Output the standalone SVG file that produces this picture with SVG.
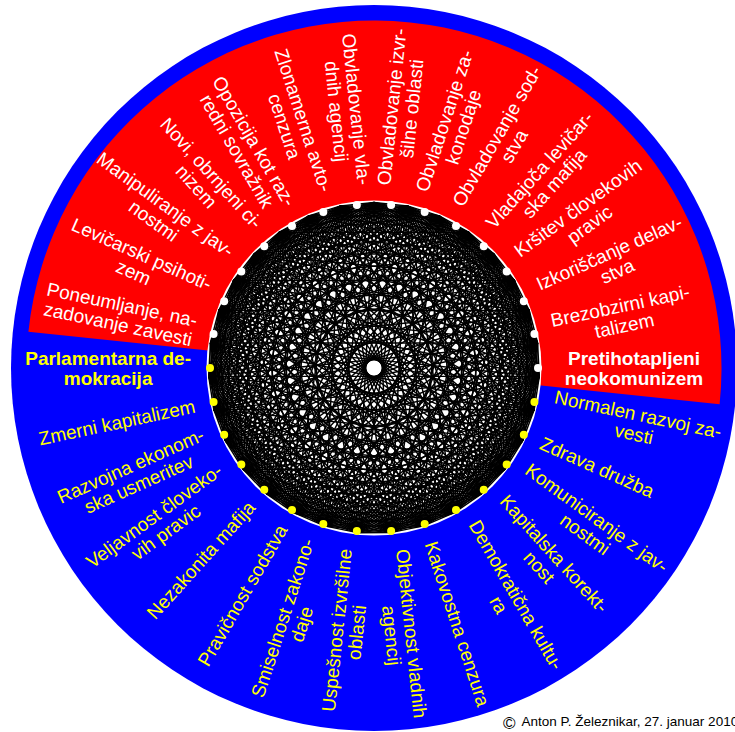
<svg xmlns="http://www.w3.org/2000/svg" width="735" height="732" viewBox="0 0 735 732">
<style>
text{font-family:"Liberation Sans",Arial,Helvetica,sans-serif;font-size:19px;text-anchor:middle}
.w{fill:#fff}
.y{fill:#ff0}
.b{font-weight:bold}
.cp{font-size:13.5px;text-anchor:start;fill:#000}
.ch{stroke:#000;stroke-width:1.45;fill:none}
.dw{fill:#fff}
.dy{fill:#ff0}
</style>
<defs>
<g id="fan">
<path class="ch" d="M-33.32 -162.11H33.32M-65.27 -152.09H65.27M-94.55 -135.84H94.55M-119.95 -114.02H119.95M-140.45 -87.54H140.45M-155.2 -57.48H155.2M-163.59 -25.06H163.59"/>
<path class="ch" transform="rotate(5.80645)" d="M-16.74 -164.65H16.74M-49.54 -157.91H49.54M-80.32 -144.7H80.32M-107.8 -125.57H107.8M-130.87 -101.3H130.87M-148.59 -72.88H148.59M-160.22 -41.48H160.22M-165.29 -8.38H165.29"/>
</g>
</defs>

<g id="background">
<circle cx="374" cy="368" r="363" fill="#00f"/>
<path d="M374 368L719.6 404.3A347.5 347.5 0 0 0 28.4 331.7Z" fill="#f00"/>
<circle cx="374" cy="368" r="167.5" fill="#fff"/>
</g>

<g id="connectors" transform="translate(374,368)">
<use href="#fan"/>
<use href="#fan" transform="rotate(11.6129)"/>
<use href="#fan" transform="rotate(23.2258)"/>
<use href="#fan" transform="rotate(34.8387)"/>
<use href="#fan" transform="rotate(46.4516)"/>
<use href="#fan" transform="rotate(58.0645)"/>
<use href="#fan" transform="rotate(69.6774)"/>
<use href="#fan" transform="rotate(81.2903)"/>
<use href="#fan" transform="rotate(92.9032)"/>
<use href="#fan" transform="rotate(104.5161)"/>
<use href="#fan" transform="rotate(116.129)"/>
<use href="#fan" transform="rotate(127.7419)"/>
<use href="#fan" transform="rotate(139.3548)"/>
<use href="#fan" transform="rotate(150.9677)"/>
<use href="#fan" transform="rotate(162.5806)"/>
<use href="#fan" transform="rotate(174.1935)"/>
<use href="#fan" transform="rotate(185.8065)"/>
<use href="#fan" transform="rotate(197.4194)"/>
<use href="#fan" transform="rotate(209.0323)"/>
<use href="#fan" transform="rotate(220.6452)"/>
<use href="#fan" transform="rotate(232.2581)"/>
<use href="#fan" transform="rotate(243.871)"/>
<use href="#fan" transform="rotate(255.4839)"/>
<use href="#fan" transform="rotate(267.0968)"/>
<use href="#fan" transform="rotate(278.7097)"/>
<use href="#fan" transform="rotate(290.3226)"/>
<use href="#fan" transform="rotate(301.9355)"/>
<use href="#fan" transform="rotate(313.5484)"/>
<use href="#fan" transform="rotate(325.1613)"/>
<use href="#fan" transform="rotate(336.7742)"/>
<use href="#fan" transform="rotate(348.3871)"/>
</g>

<g id="dots">
<circle class="dw" cx="538" cy="368" r="4"/>
<circle class="dw" cx="534.42" cy="333.9" r="4"/>
<circle class="dw" cx="523.82" cy="301.29" r="4"/>
<circle class="dw" cx="506.68" cy="271.6" r="4"/>
<circle class="dw" cx="483.74" cy="246.13" r="4"/>
<circle class="dw" cx="456" cy="225.97" r="4"/>
<circle class="dw" cx="424.68" cy="212.03" r="4"/>
<circle class="dw" cx="391.14" cy="204.9" r="4"/>
<circle class="dw" cx="356.86" cy="204.9" r="4"/>
<circle class="dw" cx="323.32" cy="212.03" r="4"/>
<circle class="dw" cx="292" cy="225.97" r="4"/>
<circle class="dw" cx="264.26" cy="246.13" r="4"/>
<circle class="dw" cx="241.32" cy="271.6" r="4"/>
<circle class="dw" cx="224.18" cy="301.29" r="4"/>
<circle class="dw" cx="213.58" cy="333.9" r="4"/>
<circle class="dy" cx="210" cy="368" r="4"/>
<circle class="dy" cx="213.58" cy="402.1" r="4"/>
<circle class="dy" cx="224.18" cy="434.71" r="4"/>
<circle class="dy" cx="241.32" cy="464.4" r="4"/>
<circle class="dy" cx="264.26" cy="489.87" r="4"/>
<circle class="dy" cx="292" cy="510.03" r="4"/>
<circle class="dy" cx="323.32" cy="523.97" r="4"/>
<circle class="dy" cx="356.86" cy="531.1" r="4"/>
<circle class="dy" cx="391.14" cy="531.1" r="4"/>
<circle class="dy" cx="424.68" cy="523.97" r="4"/>
<circle class="dy" cx="456" cy="510.03" r="4"/>
<circle class="dy" cx="483.74" cy="489.87" r="4"/>
<circle class="dy" cx="506.68" cy="464.4" r="4"/>
<circle class="dy" cx="523.82" cy="434.71" r="4"/>
<circle class="dy" cx="534.42" cy="402.1" r="4"/>
</g>

<g id="n0" transform="translate(634,368)"><text class="w b"><tspan x="0" y="-3">Pretihotapljeni</tspan><tspan x="0" y="17">neokomunizem</tspan></text></g>
<g id="n12" transform="translate(622.2,315.3) rotate(-12)"><text class="w"><tspan x="0" y="-3">Brezobzirni kapi-</tspan><tspan x="0" y="17">talizem</tspan></text></g>
<g id="n24" transform="translate(613.1,261.6) rotate(-24)"><text class="w"><tspan x="0" y="-3">Izkoriščanje delav-</tspan><tspan x="0" y="17">stva</tspan></text></g>
<g id="n36" transform="translate(583.5,215.8) rotate(-36)"><text class="w"><tspan x="0" y="-3">Kršitev človekovih</tspan><tspan x="0" y="17">pravic</tspan></text></g>
<g id="n48" transform="translate(546.6,176.3) rotate(-48)"><text class="w"><tspan x="0" y="-3">Vladajoča levičar-</tspan><tspan x="0" y="17">ska mafija</tspan></text></g>
<g id="n60" transform="translate(505.1,140.9) rotate(-60)"><text class="w"><tspan x="0" y="-3">Obvladovanje sod-</tspan><tspan x="0" y="17">stva</tspan></text></g>
<g id="n72" transform="translate(453.4,123.7) rotate(-72)"><text class="w"><tspan x="0" y="-3">Obvladovanje za-</tspan><tspan x="0" y="17">konodaje</tspan></text></g>
<g id="n84" transform="translate(401.4,107.7) rotate(-84)"><text class="w"><tspan x="0" y="-3">Obvladovanje izvr-</tspan><tspan x="0" y="17">šilne oblasti</tspan></text></g>
<g id="n96" transform="translate(346.9,110.3) rotate(84)"><text class="w"><tspan x="0" y="-3">Obvladovanje vla-</tspan><tspan x="0" y="17">dnih agencij</tspan></text></g>
<g id="n108" transform="translate(294.4,123.1) rotate(72)"><text class="w"><tspan x="0" y="-3">Zlonamerna avto-</tspan><tspan x="0" y="17">cenzura</tspan></text></g>
<g id="n120" transform="translate(245.8,146) rotate(60)"><text class="w"><tspan x="0" y="-3">Opozicija kot raz-</tspan><tspan x="0" y="17">redni sovražnik</tspan></text></g>
<g id="n132" transform="translate(204.2,179.5) rotate(48)"><text class="w"><tspan x="0" y="-3">Novi, obrnjeni ci-</tspan><tspan x="0" y="17">nizem</tspan></text></g>
<g id="n144" transform="translate(159.8,212.4) rotate(36)"><text class="w"><tspan x="0" y="-3">Manipuliranje z jav-</tspan><tspan x="0" y="17">nostmi</tspan></text></g>
<g id="n156" transform="translate(137.8,262.9) rotate(24)"><text class="w"><tspan x="0" y="-3">Levičarski psihoti-</tspan><tspan x="0" y="17">zem</tspan></text></g>
<g id="n168" transform="translate(120.1,314) rotate(12)"><text class="w"><tspan x="0" y="-3">Poneumljanje, na-</tspan><tspan x="0" y="17">zadovanje zavesti</tspan></text></g>

<g id="n180" transform="translate(108.1,368)"><text class="y b"><tspan x="0" y="-3">Parlamentarna de-</tspan><tspan x="0" y="17">mokracija</tspan></text></g>
<g id="n192" transform="translate(117,422.6) rotate(-12)"><text class="y" y="6.5">Zmerni kapitalizem</text></g>
<g id="n204" transform="translate(134.5,474.6) rotate(-24)"><text class="y"><tspan x="0" y="-3">Razvojna ekonom-</tspan><tspan x="0" y="17">ska usmeritev</tspan></text></g>
<g id="n216" transform="translate(159.7,523.7) rotate(-36)"><text class="y"><tspan x="0" y="-3">Veljavnost človeko-</tspan><tspan x="0" y="17">vih pravic</tspan></text></g>
<g id="n228" transform="translate(201,560.1) rotate(-48)"><text class="y" y="6.5">Nezakonita mafija</text></g>
<g id="n240" transform="translate(242.6,595.5) rotate(-60)"><text class="y" y="6.5">Pravičnost sodstva</text></g>
<g id="n252" transform="translate(291.8,620.9) rotate(-72)"><text class="y"><tspan x="0" y="-3">Smiselnost zakono-</tspan><tspan x="0" y="17">daje</tspan></text></g>
<g id="n264" transform="translate(346.3,631.3) rotate(-84)"><text class="y"><tspan x="0" y="-3">Uspešnost izvršilne</tspan><tspan x="0" y="17">oblasti</tspan></text></g>
<g id="n276" transform="translate(402,634.5) rotate(84)"><text class="y"><tspan x="0" y="-3">Objektivnost vladnih</tspan><tspan x="0" y="17">agencij</tspan></text></g>
<g id="n288" transform="translate(457.2,623.9) rotate(72)"><text class="y" y="6.5">Kakovostna cenzura</text></g>
<g id="n300" transform="translate(507.8,599.7) rotate(60)"><text class="y"><tspan x="0" y="-3">Demokratična kultu-</tspan><tspan x="0" y="17">ra</tspan></text></g>
<g id="n312" transform="translate(547,560.1) rotate(48)"><text class="y"><tspan x="0" y="-3">Kapitalska korekt-</tspan><tspan x="0" y="17">nost</tspan></text></g>
<g id="n324" transform="translate(591.2,525.8) rotate(36)"><text class="y"><tspan x="0" y="-3">Komuniciranje z jav-</tspan><tspan x="0" y="17">nostmi</tspan></text></g>
<g id="n336" transform="translate(597.2,467.4) rotate(24)"><text class="y" y="6.5">Zdrava družba</text></g>
<g id="n348" transform="translate(636.1,423.7) rotate(12)"><text class="y"><tspan x="0" y="-3">Normalen razvoj za-</tspan><tspan x="0" y="17">vesti</tspan></text></g>

<g id="copyright"><text class="cp"><tspan x="503" y="728.5" font-size="17">©</tspan><tspan x="521.5" y="725.7">Anton P. Železnikar, 27. januar 2010</tspan></text></g>
</svg>
